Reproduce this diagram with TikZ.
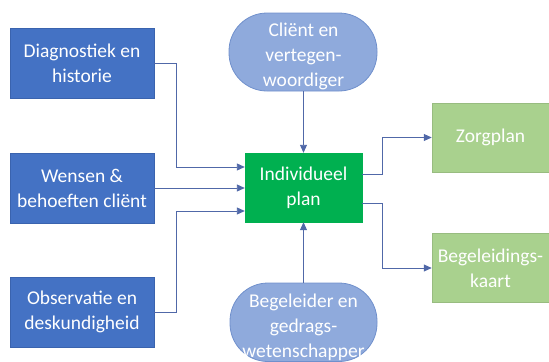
\documentclass[tikz,border=0pt]{standalone}
\usepackage{fontspec}
\setmainfont{Carlito}
\usetikzlibrary{arrows.meta,calc}
\definecolor{dblue}{HTML}{4472C4}
\definecolor{dbord}{HTML}{3A63AE}
\definecolor{lblue}{HTML}{8FAADC}
\definecolor{lbord}{HTML}{7090CC}
\definecolor{gmain}{HTML}{00B050}
\definecolor{lgreen}{HTML}{A9D18E}
\definecolor{arrc}{HTML}{5068A8}
\begin{document}
\begin{tikzpicture}[x=1bp,y=-1bp,
  txt/.style={text=white,align=center,font=\fontsize{19.5bp}{25bp}\selectfont,inner sep=0pt},
  inbox/.style={txt,rectangle,fill=dblue,draw=dbord,line width=0.8bp,minimum width=144bp,minimum height=70bp},
  mainbox/.style={txt,rectangle,fill=gmain,draw=gmain,minimum width=117bp,minimum height=69bp},
  outbox/.style={txt,rectangle,fill=lgreen,draw=lgreen!90!black,line width=0.5bp,minimum width=117bp,minimum height=69bp},
  stad/.style={fill=lblue,draw=lbord,line width=0.8bp,rounded corners=38bp},
  arr/.style={draw=arrc,line width=0.9bp,-{Triangle[length=8bp,width=7bp]}}]
\useasboundingbox (0,0) rectangle (549,361);
% left input boxes
\node[inbox] (d1) at (82,63.5) {Diagnostiek en\\historie};
\node[inbox] (d2) at (82,188) {Wensen \&\\behoeften cliënt};
\node[inbox] (d3) at (82,312) {Observatie en\\deskundigheid};
% central plan
\node[mainbox] (g) at (303.5,187.5) {Individueel\\plan};
% stadium shapes
\draw[stad] (229,13) rectangle (377,91);
\coordinate (tb) at (303.5,91);
\node[txt] (t) at (303.5,56) {Cliënt en\\vertegen-\\woordiger};
\draw[stad] (230,283) rectangle (377,361.5);
\coordinate (bt) at (303.5,283);
\node[txt] (b) at (303.5,327) {Begeleider en\\gedrags-\\wetenschapper};
% output boxes
\node[outbox] (z) at (490.5,137.5) {Zorgplan};
\node[outbox] (k) at (490.5,268) {Begeleidings-\\kaart};
% connector endpoints
\coordinate (gi1) at ([yshift=20.5bp]g.west);
\coordinate (gi3) at ([yshift=-23.5bp]g.west);
\coordinate (go1) at ([yshift=13.5bp]g.east);
\coordinate (go2) at ([yshift=-15.5bp]g.east);
% connectors
\draw[arr] (d1.east) -- ++(22,0) |- (gi1);
\draw[arr] (d2.east) -- (d2.east -| g.west);
\draw[arr] (d3.east) -- ++(22,0) |- (gi3);
\draw[arr] (tb) -- (g.north);
\draw[arr] (bt) -- (g.south);
\draw[arr] (go1) -- ++(20,0) |- (z.west);
\draw[arr] (go2) -- ++(20,0) |- (k.west);
\end{tikzpicture}
\end{document}
